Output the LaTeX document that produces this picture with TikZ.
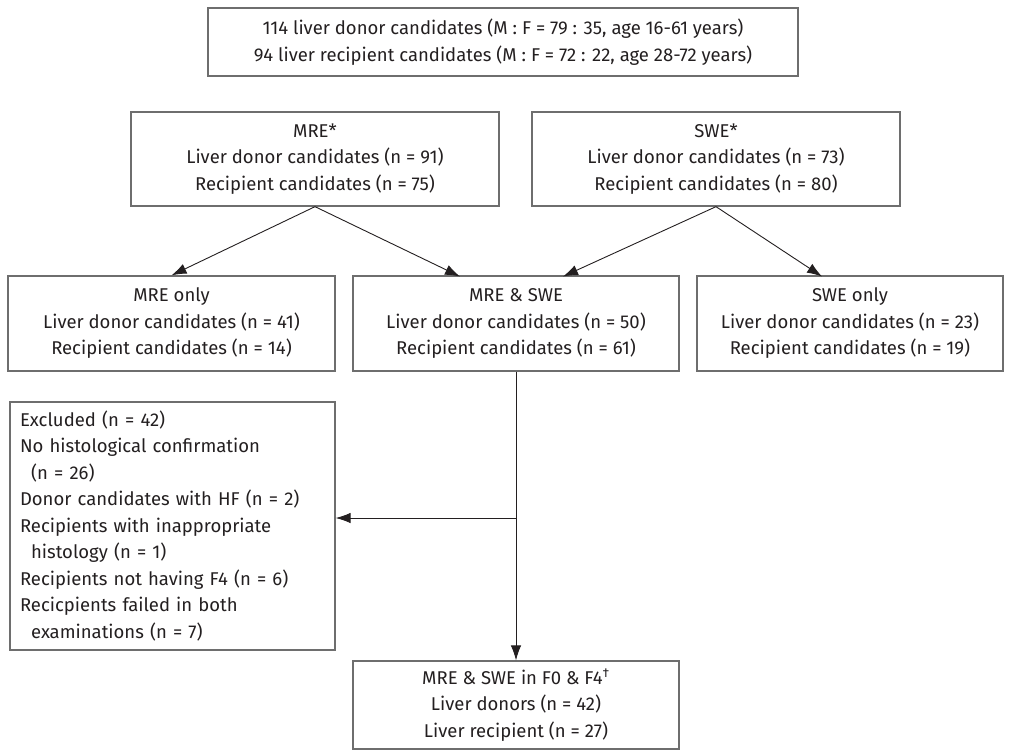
\documentclass[tikz,border=0pt]{standalone}
\usepackage{fontspec}
\setmainfont{Fira Sans}
\usetikzlibrary{arrows.meta}
\definecolor{boxgray}{HTML}{6E6E6E}
\definecolor{txt}{HTML}{231F20}
\begin{document}
\begin{tikzpicture}[x=1pt,y=-1pt,
  box/.style={draw=boxgray, line width=1.3pt, inner sep=0pt, align=center, text=txt,
    font=\fontsize{18.5}{26.5}\selectfont},
  arr/.style={-{Latex[length=15pt,width=10.5pt]}, line width=0.9pt, draw=txt}]
\useasboundingbox (0,0) rectangle (1011,750);
\node[box, minimum width=590, minimum height=68] (top) at (503,42)
  {114 liver donor candidates (M : F = 79 : 35, age 16-61 years)\\
   94 liver recipient candidates (M : F = 72 : 22, age 28-72 years)};
\node[box, minimum width=368, minimum height=94] (mre) at (315,159)
  {MRE*\\Liver donor candidates (n = 91)\\Recipient candidates (n = 75)};
\node[box, minimum width=368, minimum height=94] (swe) at (716,159)
  {SWE*\\Liver donor candidates (n = 73)\\Recipient candidates (n = 80)};
\node[box, minimum width=327, minimum height=95] (mreonly) at (171.5,323.5)
  {MRE only\\Liver donor candidates (n = 41)\\Recipient candidates (n = 14)};
\node[box, minimum width=326, minimum height=95] (both) at (516,323.5)
  {MRE \& SWE\\Liver donor candidates (n = 50)\\Recipient candidates (n = 61)};
\node[box, minimum width=306, minimum height=95] (sweonly) at (850,323.5)
  {SWE only\\Liver donor candidates (n = 23)\\Recipient candidates (n = 19)};
\node[box, minimum width=325, minimum height=248, align=left, text width=305] (excl) at (172.5,526)
  {Excluded (n = 42)\\
   No histological confirmation\\
   \hspace*{0.6em}(n = 26)\\
   Donor candidates with HF (n = 2)\\
   Recipients with inappropriate\\
   \hspace*{0.6em}histology (n = 1)\\
   Recipients not having F4 (n = 6)\\
   Recicpients failed in both\\
   \hspace*{0.6em}examinations (n = 7)};
\node[box, minimum width=326, minimum height=88] (final) at (516,705)
  {MRE \& SWE in F0 \& F4\textsuperscript{†}\\Liver donors (n = 42)\\Liver recipient (n = 27)};
\coordinate (t1) at (460,276.5);
\coordinate (t2) at (563,276.5);
\coordinate (t3) at (822,276.5);
\coordinate (j) at (516,518);
\draw[arr] (mre.south) -- (mreonly.north);
\draw[arr] (mre.south) -- (t1);
\draw[arr] (swe.south) -- (t2);
\draw[arr] (swe.south) -- (t3);
\draw[arr] (both.south) -- (final.north);
\draw[arr] (j) -- (excl.east |- j);
\end{tikzpicture}
\end{document}
